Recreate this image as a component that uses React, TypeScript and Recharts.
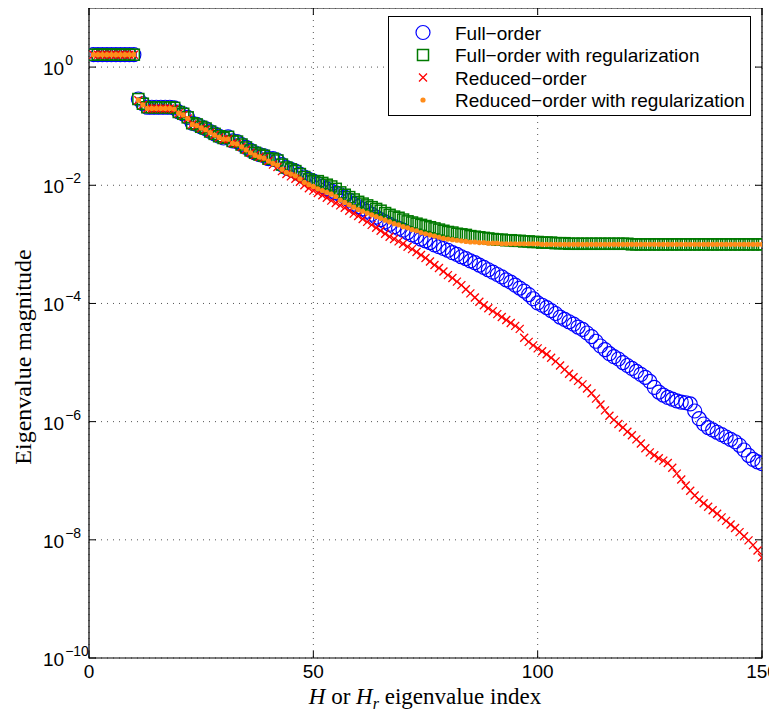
import React from 'react';
import {
  ScatterChart,
  Scatter,
  XAxis,
  YAxis,
  CartesianGrid,
  ReferenceArea,
  Label,
} from 'recharts';

// eigenvalue index 1..150
const indices = Array.from({ length: 150 }, (_, i) => i + 1);

// log10 of the eigenvalue magnitude
const fullOrderExp = [
  0.21, 0.21, 0.21, 0.21, 0.21, 0.21, 0.21, 0.21, 0.21, 0.21,
  -0.54, -0.62, -0.68, -0.68, -0.68, -0.68, -0.68, -0.68, -0.69, -0.76,
  -0.79, -0.85, -0.95, -0.97, -1.01, -1.04, -1.09, -1.13, -1.17, -1.20,
  -1.18, -1.25, -1.26, -1.31, -1.36, -1.41, -1.45, -1.48, -1.50, -1.55,
  -1.55, -1.58, -1.65, -1.70, -1.73, -1.76, -1.81, -1.86, -1.90, -1.93,
  -1.97, -2.02, -2.06, -2.10, -2.13, -2.16, -2.20, -2.25, -2.32, -2.36,
  -2.40, -2.44, -2.49, -2.54, -2.58, -2.62, -2.66, -2.70, -2.73, -2.76,
  -2.80, -2.84, -2.87, -2.91, -2.94, -2.97, -3.01, -3.04, -3.07, -3.10,
  -3.14, -3.17, -3.21, -3.24, -3.28, -3.31, -3.35, -3.39, -3.43, -3.47,
  -3.51, -3.55, -3.60, -3.64, -3.69, -3.74, -3.79, -3.85, -3.92, -3.99,
  -4.03, -4.07, -4.12, -4.17, -4.23, -4.27, -4.31, -4.35, -4.40, -4.44,
  -4.50, -4.56, -4.64, -4.72, -4.78, -4.85, -4.90, -4.94, -5.00, -5.05,
  -5.10, -5.15, -5.20, -5.25, -5.32, -5.42, -5.50, -5.55, -5.59, -5.62,
  -5.65, -5.67, -5.68, -5.70, -5.82, -5.95, -6.04, -6.10, -6.14, -6.18,
  -6.22, -6.26, -6.30, -6.34, -6.40, -6.48, -6.57, -6.64, -6.68, -6.71,
];

const fullOrderRegExp = [
  0.21, 0.21, 0.21, 0.21, 0.21, 0.21, 0.21, 0.21, 0.21, 0.21,
  -0.54, -0.62, -0.68, -0.68, -0.68, -0.68, -0.68, -0.68, -0.69, -0.76,
  -0.79, -0.85, -0.95, -0.97, -1.01, -1.04, -1.09, -1.13, -1.17, -1.20,
  -1.18, -1.25, -1.26, -1.31, -1.36, -1.41, -1.45, -1.48, -1.50, -1.55,
  -1.55, -1.58, -1.65, -1.70, -1.73, -1.76, -1.81, -1.86, -1.90, -1.93,
  -1.93, -1.96, -1.99, -2.02, -2.06, -2.12, -2.16, -2.20, -2.24, -2.28,
  -2.31, -2.34, -2.37, -2.40, -2.43, -2.47, -2.50, -2.53, -2.55, -2.58,
  -2.61, -2.63, -2.65, -2.67, -2.69, -2.71, -2.73, -2.75, -2.77, -2.79,
  -2.80, -2.82, -2.83, -2.84, -2.86, -2.87, -2.88, -2.89, -2.90, -2.91,
  -2.92, -2.92, -2.93, -2.93, -2.94, -2.94, -2.95, -2.95, -2.96, -2.96,
  -2.97, -2.97, -2.97, -2.98, -2.98, -2.98, -2.99, -2.99, -2.99, -2.99,
  -2.99, -2.99, -2.99, -2.99, -2.99, -2.99, -2.99, -2.99, -2.99, -2.99,
  -3.0, -3.0, -3.0, -3.0, -3.0, -3.0, -3.0, -3.0, -3.0, -3.0,
  -3.0, -3.0, -3.0, -3.0, -3.0, -3.0, -3.0, -3.0, -3.0, -3.0,
  -3.0, -3.0, -3.0, -3.0, -3.0, -3.0, -3.0, -3.0, -3.0, -3.0,
];

const reducedOrderExp = [
  0.21, 0.21, 0.21, 0.21, 0.21, 0.21, 0.21, 0.21, 0.21, 0.21,
  -0.56, -0.64, -0.70, -0.70, -0.70, -0.70, -0.70, -0.70, -0.71, -0.78,
  -0.81, -0.87, -0.97, -0.99, -1.03, -1.06, -1.11, -1.15, -1.19, -1.22,
  -1.22, -1.29, -1.30, -1.35, -1.40, -1.45, -1.49, -1.52, -1.54, -1.59,
  -1.65, -1.69, -1.76, -1.81, -1.85, -1.89, -1.94, -2.00, -2.05, -2.09,
  -2.13, -2.17, -2.21, -2.26, -2.30, -2.34, -2.38, -2.43, -2.48, -2.52,
  -2.57, -2.62, -2.67, -2.72, -2.77, -2.82, -2.87, -2.91, -2.95, -2.99,
  -3.04, -3.08, -3.13, -3.18, -3.23, -3.29, -3.35, -3.40, -3.46, -3.52,
  -3.57, -3.63, -3.69, -3.76, -3.83, -3.90, -3.97, -4.03, -4.08, -4.13,
  -4.18, -4.23, -4.28, -4.33, -4.38, -4.43, -4.58, -4.65, -4.71, -4.76,
  -4.81, -4.86, -4.92, -4.98, -5.05, -5.12, -5.19, -5.25, -5.31, -5.37,
  -5.44, -5.52, -5.61, -5.71, -5.81, -5.90, -5.97, -6.04, -6.10, -6.17,
  -6.23, -6.30, -6.37, -6.45, -6.52, -6.57, -6.62, -6.66, -6.70, -6.78,
  -6.88, -6.98, -7.08, -7.17, -7.25, -7.32, -7.38, -7.44, -7.50, -7.56,
  -7.62, -7.68, -7.74, -7.80, -7.87, -7.94, -8.01, -8.09, -8.18, -8.30,
];

const reducedOrderRegExp = [
  0.21, 0.21, 0.21, 0.21, 0.21, 0.21, 0.21, 0.21, 0.21, 0.21,
  -0.56, -0.64, -0.70, -0.70, -0.70, -0.70, -0.70, -0.70, -0.71, -0.78,
  -0.81, -0.87, -0.97, -0.99, -1.03, -1.06, -1.11, -1.15, -1.19, -1.22,
  -1.22, -1.29, -1.30, -1.35, -1.40, -1.45, -1.49, -1.52, -1.54, -1.59,
  -1.63, -1.66, -1.73, -1.78, -1.81, -1.84, -1.89, -1.95, -1.99, -2.02,
  -2.06, -2.09, -2.12, -2.15, -2.19, -2.25, -2.29, -2.33, -2.37, -2.41,
  -2.44, -2.47, -2.50, -2.53, -2.56, -2.59, -2.62, -2.65, -2.67, -2.70,
  -2.72, -2.75, -2.77, -2.80, -2.82, -2.84, -2.86, -2.88, -2.90, -2.91,
  -2.92, -2.93, -2.94, -2.95, -2.96, -2.96, -2.97, -2.97, -2.98, -2.98,
  -2.98, -2.99, -2.99, -2.99, -2.99, -2.99, -2.99, -2.99, -2.99, -2.99,
  -3.0, -3.0, -3.0, -3.0, -3.0, -3.0, -3.0, -3.0, -3.0, -3.0,
  -3.0, -3.0, -3.0, -3.0, -3.0, -3.0, -3.0, -3.0, -3.0, -3.0,
  -3.0, -3.0, -3.0, -3.0, -3.0, -3.0, -3.0, -3.0, -3.0, -3.0,
  -3.0, -3.0, -3.0, -3.0, -3.0, -3.0, -3.0, -3.0, -3.0, -3.0,
  -3.0, -3.0, -3.0, -3.0, -3.0, -3.0, -3.0, -3.0, -3.0, -3.0,
];

const xTicks = [0, 50, 100, 150];
const yTicks = [1e-10, 1e-8, 1e-6, 1e-4, 1e-2, 1e0];

const seriesNames = [
  'Full\u2212order',
  'Full\u2212order with regularization',
  'Reduced\u2212order',
  'Reduced\u2212order with regularization',
];

const BLUE = '#0000ff';
const GREEN = '#007a00';
const RED = '#ff0000';
const ORANGE = '#ff8c1a';
const SANS = '"Liberation Sans", Arial, Helvetica, sans-serif';
const SERIF = '"Liberation Serif", "Times New Roman", serif';
const PLOT_LEFT = 89;
const PLOT_RIGHT = 762;
const PLOT_TOP = 8;
const PLOT_BOTTOM = 658;

const toPoints = (exps: number[]) =>
  indices.map((x, i) => ({ x, y: Math.pow(10, exps[i]) }));

const circleShape = (p: any) => (
  <circle cx={p.cx} cy={p.cy} r={7} fill="none" stroke={BLUE} strokeWidth={1.2} />
);
const squareShape = (p: any) => (
  <rect x={p.cx - 5.5} y={p.cy - 5.5} width={11} height={11} fill="none" stroke={GREEN} strokeWidth={1.5} />
);
const crossShape = (p: any) => (
  <path
    d={`M${p.cx - 4},${p.cy - 4}L${p.cx + 4},${p.cy + 4}M${p.cx + 4},${p.cy - 4}L${p.cx - 4},${p.cy + 4}`}
    stroke={RED}
    strokeWidth={1.3}
    fill="none"
  />
);
const dotShape = (p: any) => <circle cx={p.cx} cy={p.cy} r={2.6} fill={ORANGE} />;

const XTick = ({ x, y, payload }: any) => (
  <g>
    <line x1={x} x2={x} y1={PLOT_BOTTOM} y2={PLOT_BOTTOM - 7} stroke="#000" />
    <line x1={x} x2={x} y1={PLOT_TOP} y2={PLOT_TOP + 7} stroke="#000" />
    <text x={x} y={y + 20} textAnchor="middle" fontFamily={SANS} fontSize={19} fill="#000">
      {payload.value}
    </text>
  </g>
);

const YTick = ({ x, y, payload }: any) => {
  const e = Math.round(Math.log10(payload.value));
  return (
    <g>
      <line x1={PLOT_LEFT} x2={PLOT_LEFT + 7} y1={y} y2={y} stroke="#000" />
      <line x1={PLOT_RIGHT} x2={PLOT_RIGHT - 7} y1={y} y2={y} stroke="#000" />
      <text x={x - 46} y={y + 8} fontFamily={SANS} fontSize={19} fill="#000">
        10
        <tspan dx={1} dy={-10} fontSize={14}>
          {e === 0 ? '0' : '\u2212' + Math.abs(e)}
        </tspan>
      </text>
    </g>
  );
};

const LegendBox = () => {
  const rowY = [32.5, 55, 77.5, 100];
  const markers = [
    <circle cx={35} cy={rowY[0] - 16} r={7} fill="none" stroke={BLUE} strokeWidth={1.2} />,
    <rect x={29.5} y={rowY[1] - 16 - 5.5} width={11} height={11} fill="none" stroke={GREEN} strokeWidth={1.5} />,
    <path
      d={`M31,${rowY[2] - 20}L39,${rowY[2] - 12}M39,${rowY[2] - 20}L31,${rowY[2] - 12}`}
      stroke={RED}
      strokeWidth={1.3}
    />,
    <circle cx={35} cy={rowY[3] - 16} r={2.6} fill={ORANGE} />,
  ];
  return (
    <svg width={363} height={100} style={{ display: 'block' }}>
      <rect x={0.5} y={0.5} width={362} height={99} fill="#fff" stroke="#000" />
      {seriesNames.map((name, i) => (
        <g key={name}>
          {markers[i]}
          <text x={67} y={rowY[i] - 16 + 7} fontFamily={SANS} fontSize={19} fill="#000">
            {name}
          </text>
        </g>
      ))}
    </svg>
  );
};

export default function App() {
  return (
    <div
      style={{
        position: 'relative',
        marginLeft: -8,
        marginTop: -8,
        background: '#fff',
        width: 777,
        height: 712,
      }}
    >
      <ScatterChart width={777} height={712} margin={{ top: 8, right: 15, left: 0, bottom: 0 }}>
        <CartesianGrid stroke="#555" strokeDasharray="1 5" />
        <XAxis
          type="number"
          dataKey="x"
          domain={[0, 150]}
          ticks={xTicks}
          tick={<XTick />}
          tickLine={false}
          axisLine={false}
          tickSize={0}
          tickMargin={0}
          height={54}
          allowDataOverflow
        >
          <Label
            content={() => (
              <text x={425} y={704} textAnchor="middle" fontFamily={SERIF} fontSize={23} fill="#000">
                <tspan fontStyle="italic">H</tspan>
                <tspan>{' or '}</tspan>
                <tspan fontStyle="italic">H</tspan>
                <tspan fontStyle="italic" fontSize={16} dy={5}>r</tspan>
                <tspan dy={-5}>{' eigenvalue index'}</tspan>
              </text>
            )}
          />
        </XAxis>
        <YAxis
          type="number"
          dataKey="y"
          scale="log"
          domain={[1e-10, 10]}
          ticks={yTicks}
          tick={<YTick />}
          tickLine={false}
          axisLine={false}
          tickSize={0}
          tickMargin={0}
          width={89}
          allowDataOverflow
        >
          <Label
            content={() => (
              <text
                x={31}
                y={357}
                transform="rotate(-90 31 357)"
                textAnchor="middle"
                fontFamily={SERIF}
                fontSize={24}
                fill="#000"
              >
                Eigenvalue magnitude
              </text>
            )}
          />
        </YAxis>
        <ReferenceArea
          x1={0}
          x2={150}
          y1={1e-10}
          y2={10}
          fill="none"
          stroke="#000"
          strokeWidth={1.2}
          ifOverflow="visible"
        />
        <Scatter name={seriesNames[0]} data={toPoints(fullOrderExp)} shape={circleShape} isAnimationActive={false} />
        <Scatter name={seriesNames[1]} data={toPoints(fullOrderRegExp)} shape={squareShape} isAnimationActive={false} />
        <Scatter name={seriesNames[2]} data={toPoints(reducedOrderExp)} shape={crossShape} isAnimationActive={false} />
        <Scatter name={seriesNames[3]} data={toPoints(reducedOrderRegExp)} shape={dotShape} isAnimationActive={false} />
      </ScatterChart>
      <div style={{ position: 'absolute', top: 16, left: 388 }}>
        <LegendBox />
      </div>
    </div>
  );
}
